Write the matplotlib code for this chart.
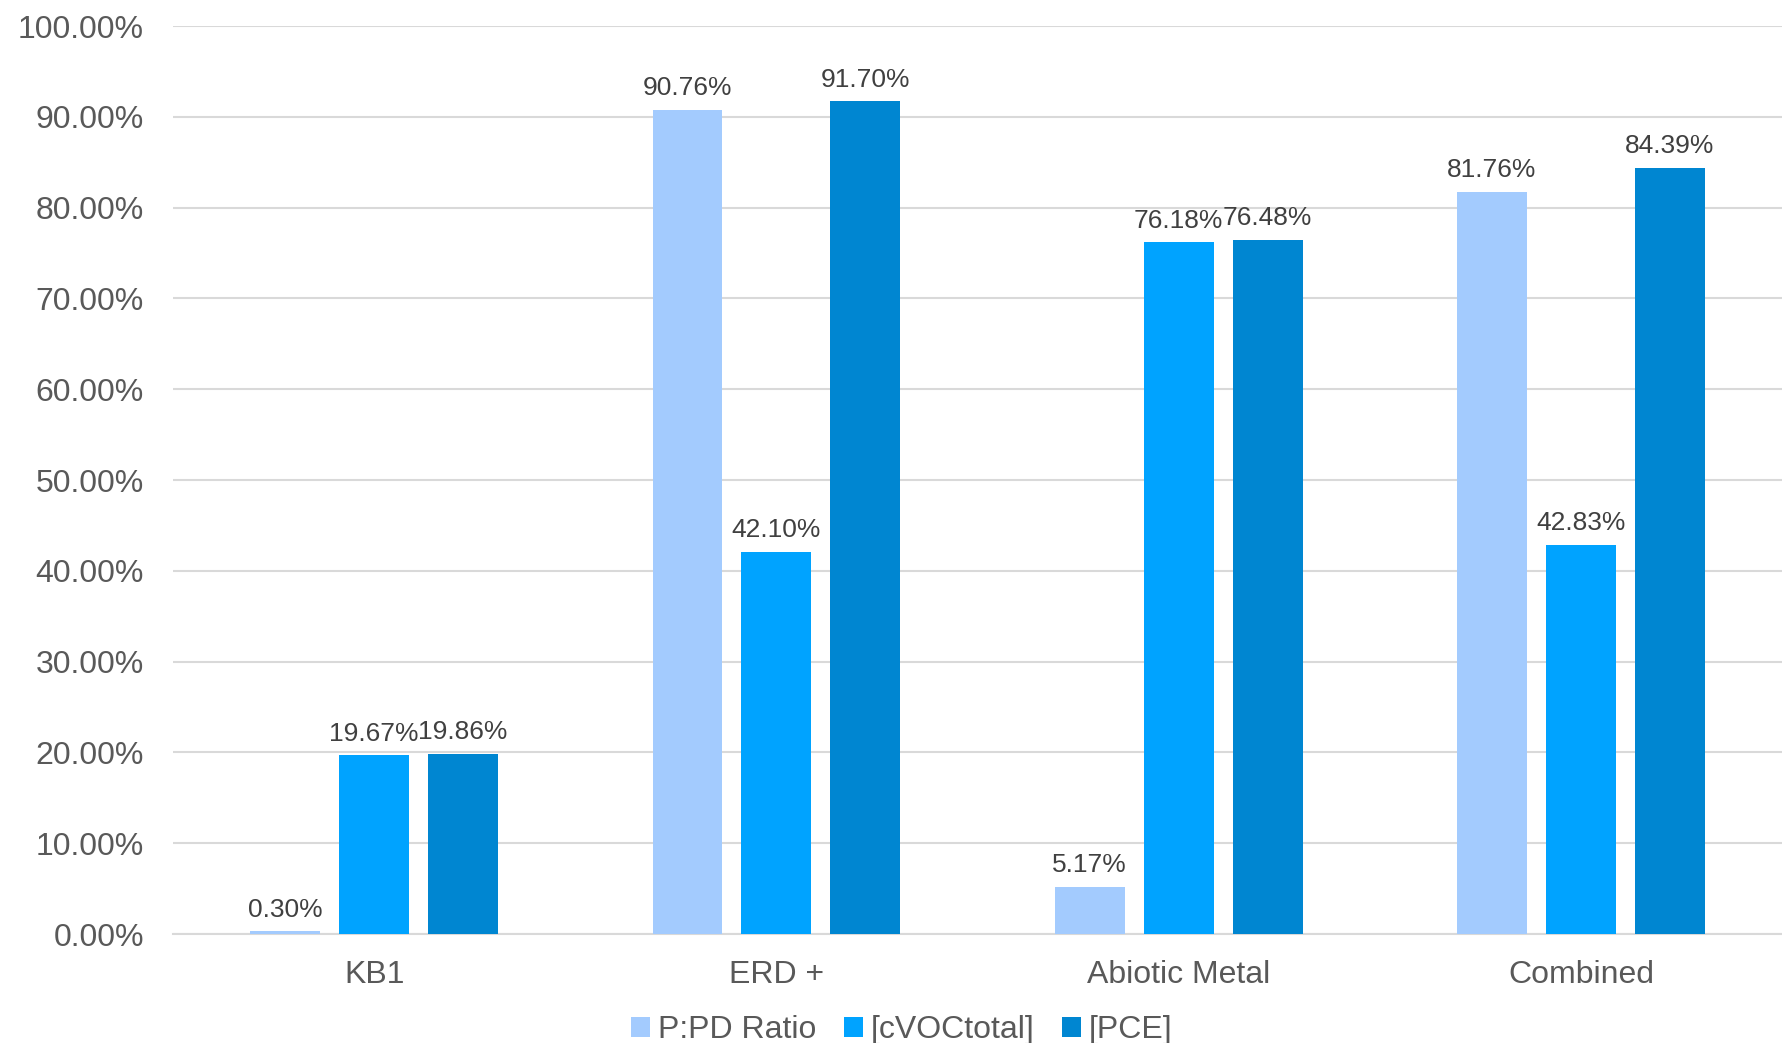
import numpy as np
import matplotlib
matplotlib.use("Agg")
import matplotlib.pyplot as plt
from matplotlib.ticker import PercentFormatter

plt.rcParams['font.family'] = ['Liberation Sans', 'DejaVu Sans']

# data
categories = ['KB1', 'ERD +', 'Abiotic Metal', 'Combined']
series_names = ['P:PD Ratio', '[cVOCtotal]', '[PCE]']
ppd_ratio = [0.30, 90.76, 5.17, 81.76]
cvoc_total = [19.67, 42.10, 76.18, 42.83]
pce = [19.86, 91.70, 76.48, 84.39]
colors = ['#A3CBFE', '#00A3FF', '#0086D1']

fig = plt.figure(figsize=(17.82, 10.43), dpi=100)
ax = fig.add_axes([0.0971, 0.1045, 0.9029, 0.8705])

x = np.arange(len(categories))
width = 0.174
step = 0.221

for i, (vals, name, c) in enumerate(zip([ppd_ratio, cvoc_total, pce], series_names, colors)):
    bars = ax.bar(x + (i - 1) * step, vals, width, color=c, label=name, zorder=3)
    ax.bar_label(bars, labels=[f'{v:.2f}%' for v in vals], padding=7,
                 fontsize=19, color='#404040')

ax.set_xlim(-0.5, len(categories) - 0.5)
ax.set_ylim(0, 100)
ax.set_yticks(np.arange(0, 101, 10))
ax.yaxis.set_major_formatter(PercentFormatter(decimals=2))
ax.grid(axis='y', color='#D9D9D9', linewidth=1.5, zorder=0)
ax.set_xticks(x)
ax.set_xticklabels(categories)

for s in ['top', 'right', 'left']:
    ax.spines[s].set_visible(False)
ax.spines['bottom'].set_color('#D9D9D9')
ax.spines['bottom'].set_linewidth(1.5)

ax.tick_params(axis='y', length=0, pad=21, labelsize=23, labelcolor='#595959')
ax.tick_params(axis='x', length=0, pad=19, labelsize=23, labelcolor='#595959')

leg = fig.legend(loc='center', bbox_to_anchor=(0.506, 0.012), ncol=3, frameon=False,
                 fontsize=23, handlelength=0.6, handleheight=0.6, handletextpad=0.25,
                 columnspacing=0.85, labelcolor='#595959')

fig.savefig('out.png', dpi=100)
